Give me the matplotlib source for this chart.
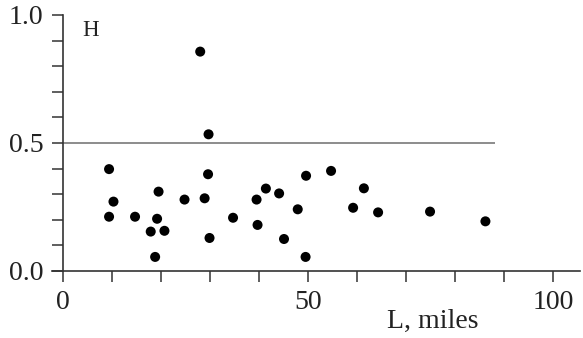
import matplotlib
matplotlib.use("Agg")
import matplotlib.pyplot as plt
from matplotlib.ticker import MultipleLocator, FixedLocator

# Distance L (miles) and value H for each observation
L_miles = [9.4, 10.3, 9.4, 14.7, 17.9, 18.8, 19.2, 19.5, 20.7, 24.8,
           28.0, 28.9, 29.7, 29.6, 29.9, 34.7, 39.5, 39.7, 41.4, 44.1,
           45.1, 47.9, 49.6, 49.5, 54.7, 59.2, 61.4, 64.3, 74.9, 86.2]
H_values = [0.398, 0.271, 0.212, 0.212, 0.154, 0.055, 0.204, 0.310, 0.157, 0.279,
            0.857, 0.284, 0.534, 0.378, 0.129, 0.208, 0.279, 0.180, 0.322, 0.303,
            0.125, 0.241, 0.372, 0.055, 0.391, 0.247, 0.323, 0.229, 0.232, 0.194]

# Reference level and its extent along L
ref_level = 0.5
ref_extent = (0.0, 88.2)

x_tick_labels = [0, 50, 100]
y_tick_labels = [0.0, 0.5, 1.0]

plt.rcParams["font.family"] = ["Liberation Serif", "DejaVu Serif"]

W, H = 583, 338
fig = plt.figure(figsize=(W / 100, H / 100), dpi=100)
ax = fig.add_axes([52 / W, 67 / H, 528 / W, 256 / H])

ax.scatter(L_miles, H_values, s=52, color="black", edgecolors="none", zorder=3)
ax.hlines(ref_level, ref_extent[0], ref_extent[1], color="#6e6e6e", linewidth=1.1)

ax.set_xlim(-2.245, 105.5)
ax.set_ylim(0.0, 1.0)

for side in ("top", "right"):
    ax.spines[side].set_visible(False)
ax.spines["left"].set_position(("data", 0))
ax.spines["left"].set_bounds(0.0, 1.0)
for side in ("left", "bottom"):
    ax.spines[side].set_linewidth(1.2)
    ax.spines[side].set_color("#333333")

ax.xaxis.set_major_locator(FixedLocator(x_tick_labels))
ax.xaxis.set_minor_locator(MultipleLocator(10))
ax.yaxis.set_major_locator(FixedLocator(y_tick_labels))
ax.yaxis.set_minor_locator(MultipleLocator(0.1))
ax.set_xticklabels([f"{v:d}" for v in x_tick_labels])
ax.set_yticklabels([f"{v:.1f}" for v in y_tick_labels])

ax.tick_params(which="both", direction="out", length=8, width=1.1,
               color="#333333", labelsize=20, labelcolor="#222222")
ax.tick_params(axis="x", which="major", pad=6)
ax.tick_params(axis="y", which="major", pad=6)

fig.text(82 / W, 1 - 31 / H, "H", ha="left", va="center",
         fontsize=16.5, color="#222222")
fig.text(433 / W, 1 - 321 / H, "L, miles", ha="center", va="center",
         fontsize=20, color="#222222")

fig.savefig("out.png", dpi=100)
